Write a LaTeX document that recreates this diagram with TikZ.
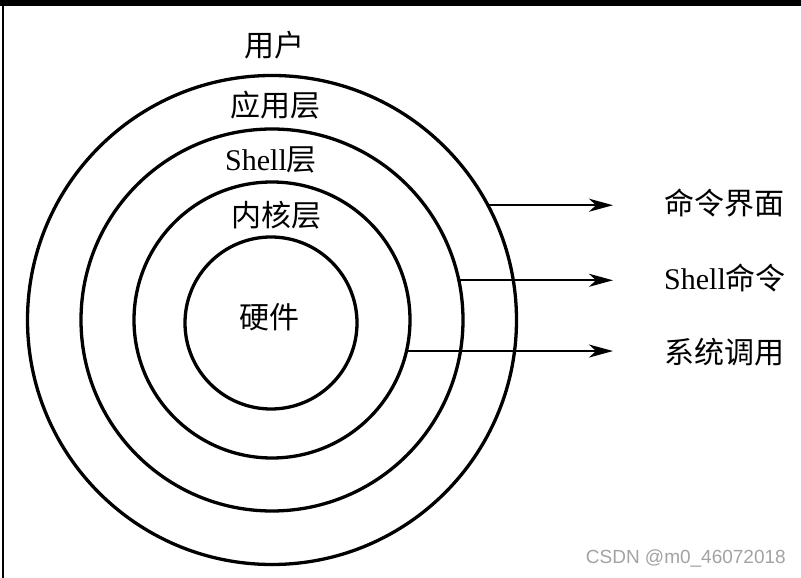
\documentclass[tikz,border=0pt]{standalone}
\usepackage{fontspec}
\setmainfont{Liberation Serif}
\newfontfamily\cjk{Noto Sans CJK SC}
\newfontfamily\wmfont{Liberation Sans}
\usetikzlibrary{arrows.meta}
\definecolor{wmgray}{HTML}{A3A3A3}
\begin{document}
\begin{tikzpicture}[x=1pt,y=1pt,
  ring/.style={circle,draw=black,line width=3.3pt,inner sep=0pt,outer sep=0pt},
  lbl/.style={inner sep=0pt,font=\fontsize{30}{33}\selectfont},
  conn/.style={line width=2pt,-{Stealth[length=24pt,width=13pt,inset=7pt]}},
  wm/.style={inner sep=0pt,text=wmgray,font=\wmfont\fontsize{19}{22}\selectfont}]
\useasboundingbox (0,0) rectangle (801,578);
\fill[white] (0,0) rectangle (801,578);
% frame
\fill[black] (0,572) rectangle (801,578);
\draw[line width=2pt] (2.5,0) -- (2.5,578);
% rings
\coordinate (ctr) at (272,258);
\node[ring,minimum size=489pt] (c1) at (ctr) {};
\node[ring,minimum size=382pt] (c2) at (ctr) {};
\node[ring,minimum size=276pt] (c3) at (ctr) {};
\node[ring,minimum size=172pt] (c4) at (271,255) {};
% layer labels
\node[lbl] (user) at (274,533) {\cjk 用户};
\node[lbl] (app) at (275,473) {\cjk 应用层};
\node[lbl] (shl) at (271,418) {Shell{\cjk 层}};
\node[lbl] (ker) at (276,363) {\cjk 内核层};
\node[lbl] (hw) at (269,261) {\cjk 硬件};
% arrows
\coordinate (xend) at (613,0);
\draw[conn] (c1.28.5) -- (c1.28.5 -| xend);
\draw[conn] (c2.12.7) -- (c2.12.7 -| xend);
\draw[conn] (c3.-13.4) -- (c3.-13.4 -| xend);
% right labels
\node[lbl,anchor=west] (t1) at (664,375) {\cjk 命令界面};
\node[lbl,anchor=west] (t2) at (664,300) {Shell{\cjk 命令}};
\node[lbl,anchor=west] (t3) at (664,226) {\cjk 系统调用};
% watermark
\node[wm,anchor=east] (wmk) at (786,19) {CSDN @m0\_46072018};
\end{tikzpicture}
\end{document}
